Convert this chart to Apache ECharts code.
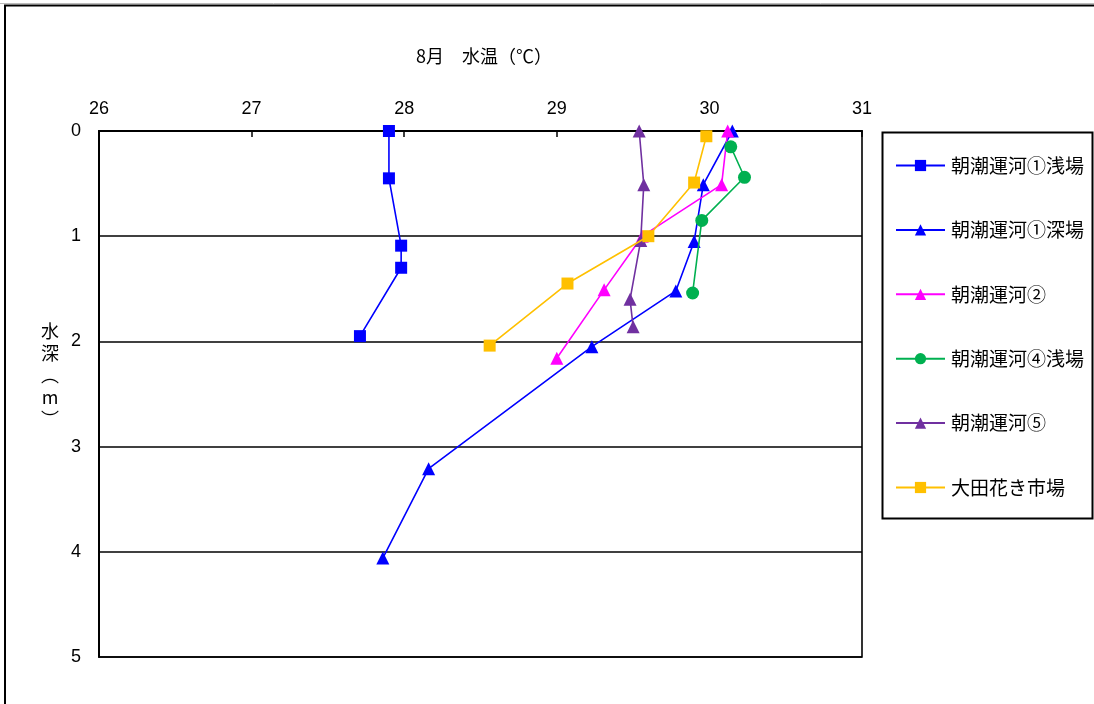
<!DOCTYPE html>
<html>
<head>
<meta charset="utf-8">
<script src="https://cdn.jsdelivr.net/npm/echarts@6/dist/echarts.min.js"></script>
<style>
html,body{margin:0;padding:0;background:#fff;}
#c{width:1094px;height:704px;}
</style>
</head>
<body>
<div id="c"></div>
<script>
const seriesNames = ['朝潮運河①浅場','朝潮運河①深場','朝潮運河②','朝潮運河④浅場','朝潮運河⑤','大田花き市場'];
const xTicks = [26, 27, 28, 29, 30, 31];
const yTicks = [0, 1, 2, 3, 4, 5];

const temp1 = [27.9, 27.9, 27.98, 27.98, 27.71];
const depth1 = [0, 0.45, 1.09, 1.3, 1.95];
const temp2 = [30.15, 29.96, 29.9, 29.78, 29.23, 28.16, 27.86];
const depth2 = [0, 0.51, 1.05, 1.52, 2.05, 3.21, 4.06];
const temp3 = [30.12, 30.08, 29.56, 29.31, 29.0];
const depth3 = [0, 0.51, 1.0, 1.51, 2.16];
const temp4 = [30.14, 30.23, 29.95, 29.89];
const depth4 = [0.15, 0.44, 0.85, 1.54];
const temp5 = [29.54, 29.57, 29.55, 29.48, 29.5];
const depth5 = [0, 0.51, 1.04, 1.6, 1.86];
const temp6 = [29.98, 29.9, 29.6, 29.07, 28.56];
const depth6 = [0.05, 0.49, 1.0, 1.45, 2.04];

const temps = [temp1, temp2, temp3, temp4, temp5, temp6];
const depths = [depth1, depth2, depth3, depth4, depth5, depth6];
const colors = ['#0000FF', '#0000FF', '#FF00FF', '#00B050', '#7030A0', '#FFC000'];
const symbols = ['rect', 'triangle', 'triangle', 'circle', 'triangle', 'rect'];
const symSizes = [12, 13, 13, 13, 13, 12];

const FONT = '"Noto Sans CJK JP", "Liberation Sans", sans-serif';

const series = seriesNames.map((name, i) => ({
  name: name,
  type: 'line',
  data: temps[i].map((t, k) => [t, depths[i][k]]),
  symbol: symbols[i],
  symbolSize: symSizes[i],
  showAllSymbol: true,
  color: colors[i],
  lineStyle: { color: colors[i], width: 1.6 },
  itemStyle: { color: colors[i], borderWidth: 0 },
  emphasis: { disabled: true },
  animation: false,
  z: 3 + i
}));

const chart = echarts.init(document.getElementById('c'), null, { renderer: 'canvas' });
chart.setOption({
  animation: false,
  backgroundColor: '#fff',
  textStyle: { fontFamily: FONT },
  grid: {
    left: 99, top: 131, right: 232, bottom: 47,
    show: true, borderColor: '#000', borderWidth: 1.6, backgroundColor: 'transparent'
  },
  xAxis: {
    type: 'value',
    position: 'top',
    min: xTicks[0], max: xTicks[xTicks.length - 1], interval: 1,
    axisLine: { show: true, lineStyle: { color: '#000', width: 2 } },
    axisTick: { show: true, inside: true, length: 6, lineStyle: { color: '#000', width: 1.5 } },
    splitLine: { show: false },
    axisLabel: { color: '#000', fontSize: 18, margin: 13, fontFamily: '"Liberation Sans", sans-serif',
      formatter: v => xTicks.includes(v) ? String(v) : '' }
  },
  yAxis: {
    type: 'value',
    inverse: true,
    min: yTicks[0], max: yTicks[yTicks.length - 1], interval: 1,
    axisLine: { show: true, lineStyle: { color: '#000', width: 2 } },
    axisTick: { show: false },
    splitLine: { show: true, lineStyle: { color: '#000', width: 1.6 } },
    axisLabel: { color: '#000', fontSize: 18, margin: 18, fontFamily: '"Liberation Sans", sans-serif',
      formatter: v => yTicks.includes(v) ? String(v) : '' }
  },
  legend: {
    orient: 'vertical',
    left: 895, top: 156,
    itemWidth: 49, itemHeight: 14,
    itemGap: 45.4,
    padding: 0,
    selectedMode: false,
    data: seriesNames,
    textStyle: { color: '#000', fontSize: 19, fontFamily: FONT, padding: [0, 0, 0, 1] }
  },
  graphic: [
    { type: 'line', shape: { x1: 0, y1: 3.5, x2: 1094, y2: 3.5 }, style: { stroke: '#bbb', lineWidth: 1 }, silent: true },
    { type: 'line', shape: { x1: 4, y1: 5.5, x2: 1094, y2: 5.5 }, style: { stroke: '#000', lineWidth: 2 }, silent: true },
    { type: 'line', shape: { x1: 5, y1: 5, x2: 5, y2: 704 }, style: { stroke: '#000', lineWidth: 2 }, silent: true },
    { type: 'rect', shape: { x: 882.5, y: 132.5, width: 210, height: 386 }, style: { fill: 'none', stroke: '#000', lineWidth: 2 }, silent: true, z: 0 },
    { type: 'text', x: 416, y: 47, style: { text: '8月　水温（℃）', font: '18px "Noto Sans CJK JP"', fill: '#000' }, silent: true },
    { type: 'text', x: 50, y: 320, style: { text: '水\n深\n︵\nm\n︶', font: '18px "Noto Sans CJK JP"', fill: '#000', align: 'center', lineHeight: 22 }, silent: true }
  ],
  series: series
});
</script>
</body>
</html>
